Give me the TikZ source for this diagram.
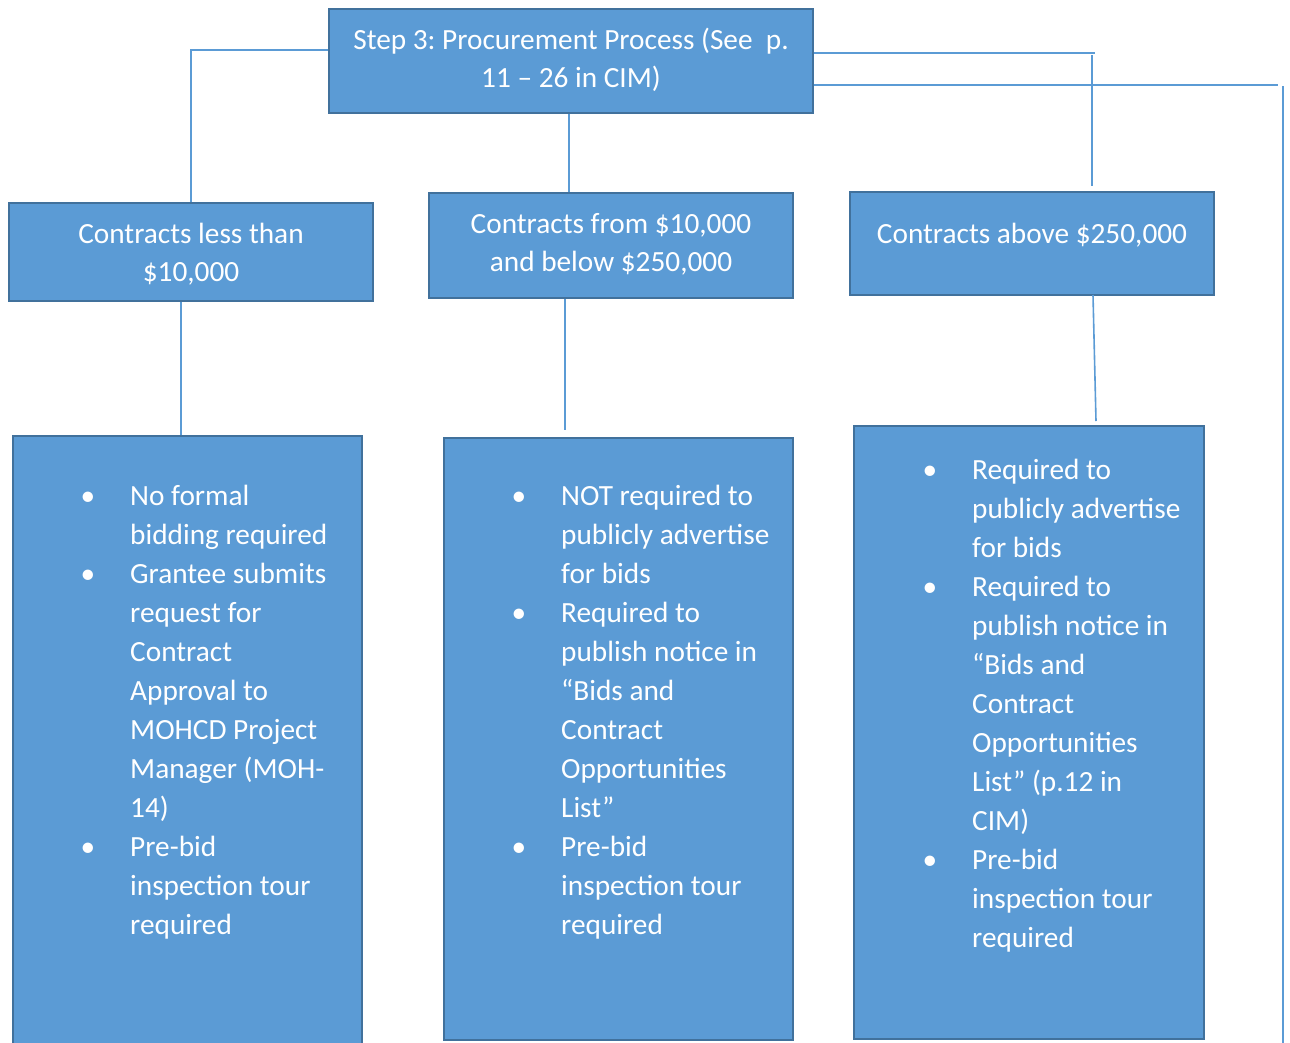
\documentclass[tikz,border=0pt]{standalone}
\usepackage{fontspec}
\setmainfont{Carlito}
\frenchspacing
\definecolor{boxfill}{HTML}{5B9BD5}
\definecolor{boxline}{HTML}{41719C}
\definecolor{connclr}{HTML}{5B9BD5}
\tikzset{
  box/.style={draw=boxline, fill=boxfill, line width=2.5pt, rectangle, inner sep=0pt},
  hdtxt/.style={text=white, font=\fontsize{29.3}{38}\selectfont\frenchspacing, inner sep=0pt, anchor=base},
  bodytxt/.style={text=white, font=\fontsize{29.3}{39}\selectfont\frenchspacing, inner sep=0pt, anchor=base west},
  connline/.style={draw=connclr, line width=1.6pt},
}
\newcommand\bl{\leavevmode\llap{\textbullet\hspace{35pt}}}
\begin{document}
\begin{tikzpicture}[x=1pt,y=-1pt]
\useasboundingbox (0,0) rectangle (1290,1042);
% connectors
\coordinate (r1a) at (1092,55);
\coordinate (r1b) at (1092,186);
\coordinate (r1e) at (1095,53);
\coordinate (r2e) at (1278,85);
\coordinate (r2a) at (1283,86);
\coordinate (r2b) at (1283,1046);
\coordinate (c3a) at (1093,295);
\coordinate (c3b) at (1096,421);
% boxes
\node[box, minimum width=484pt, minimum height=104pt] (top) at (571,61) {};
\node[box, minimum width=364pt, minimum height=98pt] (A) at (191,252) {};
\node[box, minimum width=364pt, minimum height=105pt] (B) at (611,245.5) {};
\node[box, minimum width=364pt, minimum height=103pt] (C) at (1032,243.5) {};
\node[box, minimum width=349pt, minimum height=614pt] (D) at (187.5,743) {};
\node[box, minimum width=349pt, minimum height=602pt] (E) at (618.5,739) {};
\node[box, minimum width=350pt, minimum height=613pt] (F) at (1029,732.5) {};
% lines
\draw[connline] ([yshift=11pt]top.west) -| (A.north);
\draw[connline] ([xshift=-2pt]top.south) -- ([xshift=-2pt]top.south |- B.north);
\draw[connline] ([yshift=8pt]top.east) -- (r1e);
\draw[connline] (r1a) -- (r1b);
\draw[connline] ([yshift=-24pt]top.east) -- (r2e);
\draw[connline] (r2a) -- (r2b);
\draw[connline] ([xshift=-10pt]A.south) -- ([xshift=-10pt]A.south |- D.north);
\draw[connline] ([xshift=-46pt]B.south) -- ([xshift=-46pt]B.south |- 0,430);
\draw[connline] (c3a) -- (c3b);
% texts
\node[hdtxt] (toptext) at (571,49) {\parbox[t]{480pt}{\centering Step 3: Procurement Process (See\ \ p.\\ 11 – 26 in CIM)}};
\node[hdtxt] (Atext) at (191,243) {\parbox[t]{360pt}{\centering Contracts less than\\ \$10,000}};
\node[hdtxt] (Btext) at (611,233) {\parbox[t]{360pt}{\centering Contracts from \$10,000\\ and below \$250,000}};
\node[hdtxt] (Ctext) at (1032,243) {\parbox[t]{360pt}{\centering Contracts above \$250,000}};
\node[bodytxt] (Dtext) at (130,505) {\parbox[t]{240pt}{\raggedright
\bl No formal\\ bidding required\\ \bl Grantee submits\\ request for\\ Contract\\ Approval to\\ MOHCD Project\\ Manager (MOH-\\ 14)\\ \bl Pre-bid\\ inspection tour\\ required}};
\node[bodytxt] (Etext) at (561,505) {\parbox[t]{240pt}{\raggedright
\bl NOT required to\\ publicly advertise\\ for bids\\ \bl Required to\\ publish notice in\\ “Bids and\\ Contract\\ Opportunities\\ List”\\ \bl Pre-bid\\ inspection tour\\ required}};
\node[bodytxt] (Ftext) at (972,479) {\parbox[t]{240pt}{\raggedright
\bl Required to\\ publicly advertise\\ for bids\\ \bl Required to\\ publish notice in\\ “Bids and\\ Contract\\ Opportunities\\ List” (p.12 in\\ CIM)\\ \bl Pre-bid\\ inspection tour\\ required}};
\end{tikzpicture}
\end{document}
